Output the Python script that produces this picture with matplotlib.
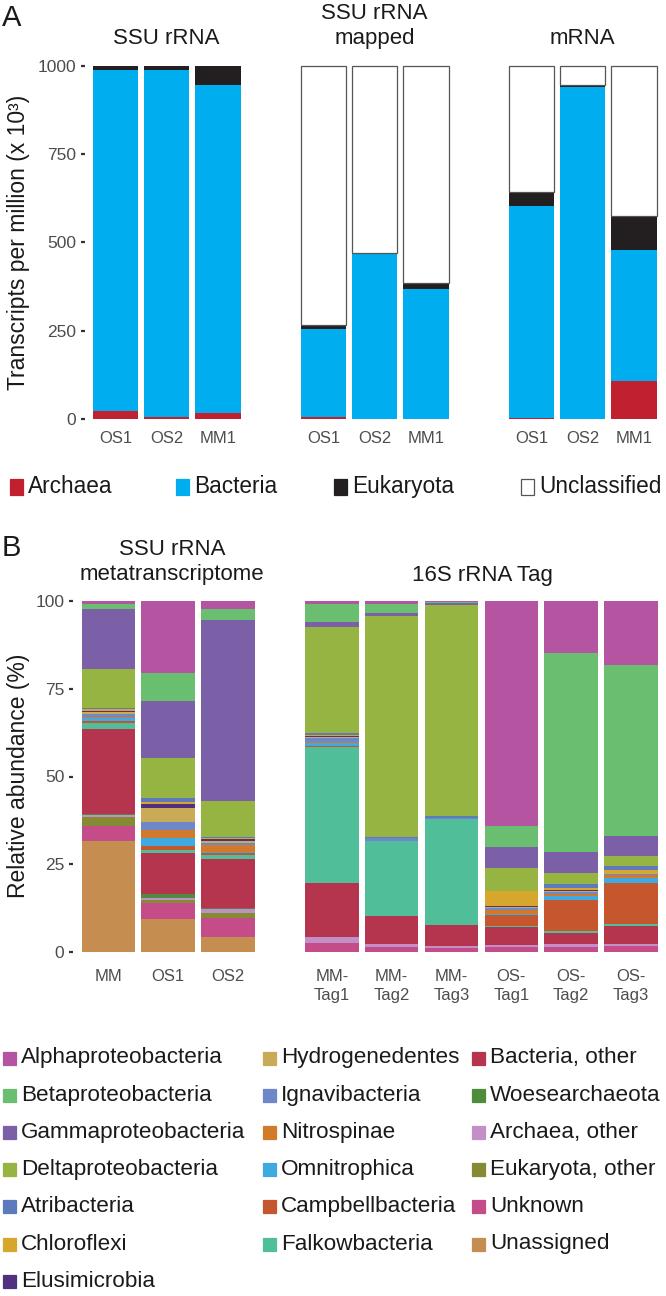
import numpy as np
import matplotlib
matplotlib.use("Agg")
import matplotlib.pyplot as plt
from matplotlib.patches import Rectangle

plt.rcParams["font.family"] = ["Liberation Sans", "DejaVu Sans"]

# ---------------------------------------------
# Panel A data (transcripts per million, x 10^3)
# ---------------------------------------------
groups_a = ["SSU rRNA", "SSU rRNA\nmapped", "mRNA"]
samples_a = ["OS1", "OS2", "MM1"]

# order: SSU (OS1, OS2, MM1), mapped (OS1, OS2, MM1), mRNA (OS1, OS2, MM1)
archaea = [24, 7, 17, 7, 1, 0, 3, 0, 109]
bacteria = [966, 983, 929, 248, 466, 368, 599, 940, 369]
eukaryota = [10, 10, 54, 12, 2, 17, 40, 6, 98]
unclassified = [0, 0, 0, 733, 531, 615, 358, 54, 424]

domains = ["Archaea", "Bacteria", "Eukaryota", "Unclassified"]
domain_colors = ["#C0202F", "#00ADEF", "#231F20", "#FFFFFF"]

# ---------------------------------------------
# Panel B data (relative abundance, %)
# ---------------------------------------------
taxa = [
    "Alphaproteobacteria", "Betaproteobacteria", "Gammaproteobacteria",
    "Deltaproteobacteria", "Atribacteria", "Chloroflexi", "Elusimicrobia",
    "Hydrogenedentes", "Ignavibacteria", "Nitrospinae", "Omnitrophica",
    "Campbellbacteria", "Falkowbacteria", "Bacteria, other", "Woesearchaeota",
    "Archaea, other", "Eukaryota, other", "Unknown", "Unassigned",
]
taxa_colors = [
    "#B554A0", "#6ABE70", "#7B60A8", "#96B441", "#5D7ABF", "#D6A62D",
    "#50307F", "#C9AA56", "#6D87C8", "#D07A2A", "#3FAAE1", "#C6562D",
    "#50BE98", "#B5344E", "#4E8C3C", "#C48EC6", "#858A34", "#C44C88",
    "#C68D50",
]

samples_meta = ["MM", "OS1", "OS2"]
samples_tag = ["MM-\nTag1", "MM-\nTag2", "MM-\nTag3", "OS-\nTag1", "OS-\nTag2", "OS-\nTag3"]

# values in the same order as taxa
meta_mm = [0.9, 1.3, 17.3, 11.1, 0.2, 0.6, 0.3, 0.5, 0.8, 0.3, 0.9, 0.5, 1.9, 24.1, 0.4, 0.5, 2.5, 4.3, 31.6]
meta_os1 = [20.5, 8.0, 16.2, 11.5, 1.0, 0.6, 1.1, 4.0, 2.3, 2.4, 2.2, 1.1, 1.0, 11.7, 0.9, 0.6, 0.9, 4.6, 9.4]
meta_os2 = [2.4, 3.0, 51.6, 10.2, 0.3, 0.2, 0.8, 0.5, 0.5, 1.9, 0.3, 0.6, 1.3, 13.9, 0.2, 1.2, 1.4, 5.4, 4.3]

tag_mm1 = [0.9, 5.0, 1.4, 30.4, 0.4, 0.5, 0.1, 0.4, 1.0, 0.3, 0.9, 0.2, 38.9, 15.2, 0.0, 1.7, 0.0, 2.7, 0.0]
tag_mm2 = [0.9, 2.6, 0.8, 62.9, 0.3, 0.0, 0.0, 0.0, 0.8, 0.0, 0.0, 0.0, 21.4, 8.0, 0.0, 0.8, 0.0, 1.5, 0.0]
tag_mm3 = [0.3, 0.4, 0.4, 60.2, 0.4, 0.0, 0.0, 0.0, 0.5, 0.0, 0.0, 0.0, 30.1, 5.9, 0.0, 0.6, 0.0, 1.2, 0.0]
tag_os1 = [64.0, 6.2, 6.0, 6.4, 0.0, 4.3, 0.2, 0.3, 0.6, 1.2, 0.3, 3.2, 0.2, 5.0, 0.0, 0.6, 0.0, 1.5, 0.0]
tag_os2 = [14.9, 56.7, 6.0, 3.0, 1.2, 0.6, 0.1, 0.4, 0.5, 0.6, 1.2, 8.7, 0.6, 3.2, 0.0, 0.8, 0.0, 1.5, 0.0]
tag_os3 = [18.1, 48.8, 5.8, 2.8, 1.1, 0.8, 0.0, 0.3, 0.4, 0.9, 1.3, 11.7, 0.6, 5.1, 0.0, 0.6, 0.0, 1.7, 0.0]

# ---------------------------------------------
# helpers (pixel layout)
# ---------------------------------------------
W, H = 666, 1296
fig = plt.figure(figsize=(W / 100, H / 100), dpi=100)
fig.patch.set_facecolor("white")

TICK_COLOR = "#4D4D4D"
TEXT_COLOR = "#1A1A1A"


def fx(x):
    return x / W


def fy(y):
    return 1 - y / H


def add_axes_px(left, top, width, height):
    return fig.add_axes([left / W, 1 - (top + height) / H, width / W, height / H])


def style_axes(ax, show_y, xpad):
    for s in ax.spines.values():
        s.set_visible(False)
    ax.set_facecolor("none")
    ax.tick_params(axis="x", length=0, pad=xpad, labelsize=12, labelcolor=TICK_COLOR)
    if show_y:
        ax.tick_params(axis="y", length=3, width=1.6, color="#333333", pad=3,
                       labelsize=12.5, labelcolor=TICK_COLOR)
    else:
        ax.tick_params(axis="y", left=False, labelleft=False)


def legend_entry(x, y, w, h, color, label, size, edge=None):
    fig.patches.append(Rectangle((fx(x), fy(y + h / 2)), w / W, h / H,
                                 transform=fig.transFigure, facecolor=color,
                                 edgecolor=edge if edge else color, linewidth=0.9))
    fig.text(fx(x + w + 5), fy(y), label, fontsize=size, color=TEXT_COLOR,
             ha="left", va="center")


# ---------------------------------------------
# Panel A
# ---------------------------------------------
fig.text(fx(2), fy(18), "A", fontsize=21, color=TEXT_COLOR, ha="left", va="center")

series_a = [archaea, bacteria, eukaryota, unclassified]
for i, group in enumerate(groups_a):
    ax = add_axes_px(84.8 + i * 208, 66, 163.8, 353)
    x = np.arange(len(samples_a))
    bottom = np.zeros(len(samples_a))
    for vals, color, name in zip(series_a, domain_colors, domains):
        v = np.array(vals[3 * i:3 * i + 3], dtype=float)
        if name == "Unclassified":
            lw = [0.9 if val > 0 else 0 for val in v]
            ax.bar(x, v, 0.89, bottom=bottom, color=color, edgecolor="#555555",
                   linewidth=lw, clip_on=False)
        else:
            ax.bar(x, v, 0.89, bottom=bottom, color=color, linewidth=0, clip_on=False)
        bottom += v
    ax.set_xlim(-0.6, 2.6)
    ax.set_ylim(0, 1000)
    ax.set_xticks(x)
    ax.set_xticklabels(samples_a)
    ax.set_yticks([0, 250, 500, 750, 1000])
    style_axes(ax, i == 0, 8.6)
    if "\n" in group:
        fig.text(fx(84.8 + i * 208 + 81.9), fy(26), group, ha="center", va="center",
                 fontsize=16, color=TEXT_COLOR, linespacing=1.25)
    else:
        fig.text(fx(84.8 + i * 208 + 81.9), fy(39), group, ha="center", va="center",
                 fontsize=16, color=TEXT_COLOR)
    if i == 0:
        ax.set_ylabel("Transcripts per million (x 10³)", fontsize=16.5, color=TEXT_COLOR)
        ax.yaxis.set_label_coords(fx(30), fy(242), transform=fig.transFigure)

# legend A
legend_a_x = [10, 176, 334, 521]
for xx, color, name in zip(legend_a_x, domain_colors, domains):
    edge = "#555555" if name == "Unclassified" else None
    legend_entry(xx, 487, 13, 16, color, name, 16.3, edge)

# ---------------------------------------------
# Panel B
# ---------------------------------------------
fig.text(fx(2), fy(548), "B", fontsize=21, color=TEXT_COLOR, ha="left", va="center")

meta_sets = [meta_mm, meta_os1, meta_os2]
tag_sets = [tag_mm1, tag_mm2, tag_mm3, tag_os1, tag_os2, tag_os3]

panels_b = [
    (72.7, 191.0, samples_meta, meta_sets, "SSU rRNA\nmetatranscriptome", True),
    (296.0, 370.8, samples_tag, tag_sets, "16S rRNA Tag", False),
]
for left, width, labels, sets, title, show_y in panels_b:
    ax = add_axes_px(left, 601, width, 351)
    data = np.array(sets, dtype=float)  # samples x taxa
    x = np.arange(len(labels))
    bottom = np.zeros(len(labels))
    for k in range(len(taxa) - 1, -1, -1):
        ax.bar(x, data[:, k], 0.895, bottom=bottom, color=taxa_colors[k], linewidth=0)
        bottom += data[:, k]
    ax.set_xlim(-0.6, len(labels) - 0.4)
    ax.set_ylim(0, 100)
    ax.set_xticks(x)
    ax.set_xticklabels(labels, linespacing=1.3)
    ax.set_yticks([0, 25, 50, 75, 100])
    style_axes(ax, show_y, 12.5)
    if show_y:
        ax.set_ylabel("Relative abundance (%)", fontsize=16.5, color=TEXT_COLOR)
        ax.yaxis.set_label_coords(fx(30), fy(776), transform=fig.transFigure)
    if "\n" in title:
        fig.text(fx(left + width / 2 + 4), fy(562), title, ha="center", va="center",
                 fontsize=16, color=TEXT_COLOR, linespacing=1.25)
    else:
        fig.text(fx(left + width / 2 + 1), fy(576), title, ha="center", va="center",
                 fontsize=16, color=TEXT_COLOR)

# legend B (3 columns, filled column by column: 7, 6, 6)
col_x = [3, 263, 472]
col_start = [0, 7, 13]
for idx, (name, color) in enumerate(zip(taxa, taxa_colors)):
    col = 0 if idx < 7 else (1 if idx < 13 else 2)
    row = idx - col_start[col]
    y = 1058 + row * 37.2
    legend_entry(col_x[col], y, 13, 13, color, name, 16.2)

fig.savefig("out.png", dpi=100, facecolor="white")
